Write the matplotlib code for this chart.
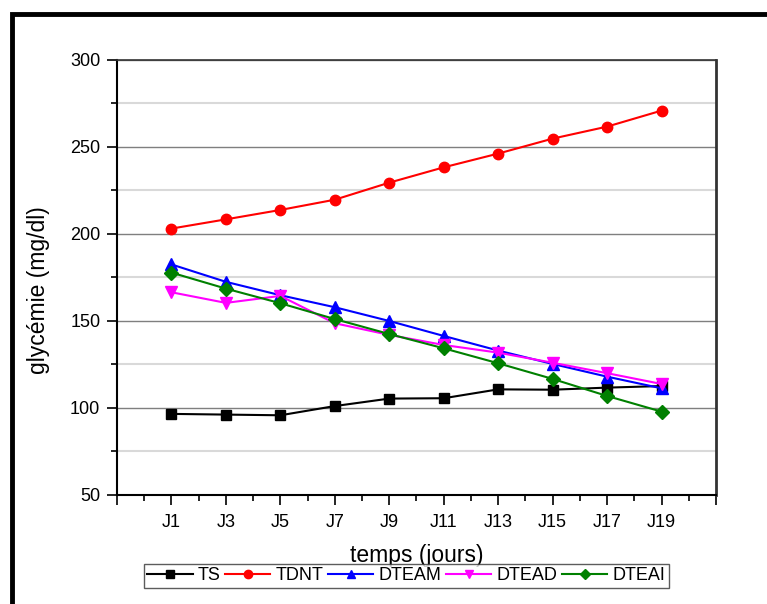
import matplotlib
matplotlib.use('Agg')
import matplotlib.pyplot as plt
from matplotlib.patches import Rectangle
from matplotlib.ticker import MultipleLocator

plt.rcParams['font.family'] = ['Liberation Sans', 'DejaVu Sans']

# glycémie suivie tous les deux jours
jours = ['J1', 'J3', 'J5', 'J7', 'J9', 'J11', 'J13', 'J15', 'J17', 'J19']
ts = [96.6, 96.2, 95.8, 101.1, 105.4, 105.6, 110.7, 110.5, 111.7, 112.6]
tdnt = [203.1, 208.4, 213.8, 219.7, 229.5, 238.3, 246.2, 254.8, 261.7, 270.9]
dteam = [182.5, 172.5, 164.8, 157.9, 150.0, 141.4, 133.0, 125.3, 118.0, 111.3]
dtead = [166.5, 160.4, 164.4, 148.7, 142.0, 136.2, 131.8, 126.0, 120.0, 113.8]
dteai = [177.8, 168.6, 160.2, 151.1, 142.5, 134.3, 125.7, 116.7, 106.9, 97.9]

series = [
    ('TS', ts, 'black', 's', 7),
    ('TDNT', tdnt, 'red', 'o', 7.5),
    ('DTEAM', dteam, 'blue', '^', 8),
    ('DTEAD', dtead, 'magenta', 'v', 8),
    ('DTEAI', dteai, 'green', 'D', 7),
]

fig = plt.figure(figsize=(7.67, 6.04), dpi=100)
ax = fig.add_axes([0.1525, 0.1805, 0.781, 0.7202])

x = list(range(len(jours)))
for name, vals, col, mk, ms in series:
    ax.plot(x, vals, color=col, marker=mk, markersize=ms, linewidth=1.5, label=name)

ax.set_xlim(-1, 10)
ax.set_ylim(50, 300)
ax.set_xticks(range(-1, 11))
ax.set_xticklabels([''] + jours + [''])
ax.xaxis.set_minor_locator(MultipleLocator(0.5))
ax.yaxis.set_major_locator(MultipleLocator(50))
ax.yaxis.set_minor_locator(MultipleLocator(25))

ax.grid(which='major', axis='y', color='#7f7f7f', linewidth=1.0)
ax.grid(which='minor', axis='y', color='#d9d9d9', linewidth=1.5)
ax.set_axisbelow(True)

ax.tick_params(which='major', direction='out', length=7, width=1.2, labelsize=13, pad=5)
ax.tick_params(which='minor', direction='out', length=4, width=1.2)
ax.tick_params(axis='x', which='major', pad=7)

for side in ['left', 'bottom']:
    ax.spines[side].set_linewidth(1.5)
ax.spines['right'].set_linewidth(2)
ax.spines['right'].set_color('#333333')
ax.spines['top'].set_linewidth(1.2)
ax.spines['top'].set_color('#333333')

ax.set_xlabel('temps (jours)', fontsize=16.5, labelpad=9)
ax.set_ylabel('glycémie (mg/dl)', fontsize=16.5)
ax.yaxis.set_label_coords(-0.112, 0.47)

leg = fig.legend(loc='center', bbox_to_anchor=(406.5 / 767, 1 - 576 / 604), ncol=5,
                 fontsize=13, frameon=True, fancybox=False, markerscale=0.8,
                 handlelength=2.5, handletextpad=0.3, columnspacing=0.25,
                 borderpad=0.2, borderaxespad=0)
leg.get_frame().set_edgecolor('#333333')
leg.get_frame().set_linewidth(1.0)

# cadre extérieur
fig.add_artist(Rectangle((11.5 / 767, -0.1), 1.2, 1 - 14.5 / 604 + 0.1,
                         transform=fig.transFigure, fill=False,
                         edgecolor='black', linewidth=3.5, clip_on=False))

fig.savefig('out.png', dpi=100)
